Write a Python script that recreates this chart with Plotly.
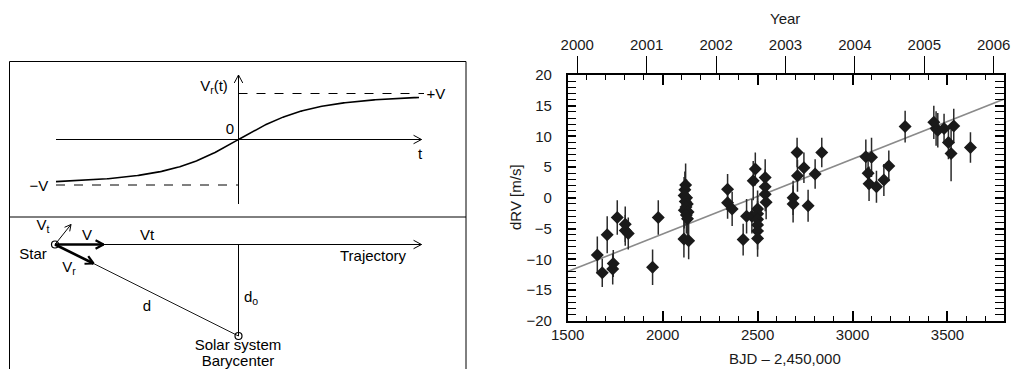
import numpy as np
import plotly.graph_objects as go

W, H = 1011, 369
FONT = "Liberation Sans, Arial, sans-serif"

# ---------------- data (right panel) ----------------
bjd = [1656, 1682, 1708, 1737, 1740, 1761, 1803, 1803, 1819, 1947, 1977,
       2121, 2117, 2113, 2126, 2119, 2130, 2123, 2114, 2134, 2125, 2131, 2112, 2137,
       2342, 2342, 2366, 2424, 2442, 2470, 2477, 2488,
       2500, 2500, 2500, 2500, 2500, 2500,
       2540, 2540, 2540, 2545,
       2687, 2687, 2708, 2710, 2744, 2766, 2803, 2838,
       3070, 3100, 3082, 3087, 3126, 3165, 3191, 3277,
       3428, 3440, 3449, 3482, 3505, 3519, 3533, 3621]
drv = [-9.3, -12.2, -6.0, -11.6, -10.7, -3.2, -4.3, -5.3, -5.8, -11.3, -3.2,
       2.1, 1.3, 0.4, 0.0, -0.6, -1.0, -1.5, -2.0, -2.3, -2.8, -3.4, -6.7, -7.0,
       1.4, -0.8, -1.8, -6.8, -3.0, -3.0, 2.8, 4.7,
       -1.8, -2.6, -3.5, -4.4, -5.4, -6.6,
       3.3, 1.8, 0.6, -0.7,
       0.0, -1.0, 7.4, 3.6, 4.9, -1.3, 3.9, 7.4,
       6.7, 6.6, 4.0, 2.3, 1.8, 2.9, 5.2, 11.6,
       12.3, 11.3, 11.0, 11.3, 9.0, 7.2, 11.7, 8.2]
err = [3.0, 2.3, 3.0, 2.5, 2.2, 2.8, 2.9, 2.5, 2.6, 2.9, 2.8,
       3.5, 3.0, 3.0, 3.0, 3.0, 3.0, 3.0, 3.0, 3.0, 3.0, 3.0, 3.0, 3.0,
       2.5, 2.6, 2.8, 2.6, 2.8, 2.8, 3.2, 2.7,
       3.0, 3.0, 3.0, 3.0, 3.0, 3.0,
       3.0, 2.8, 2.8, 2.8,
       2.8, 3.0, 2.4, 2.6, 2.5, 2.6, 2.4, 2.4,
       2.8, 3.2, 2.6, 2.8, 2.6, 2.6, 2.5, 2.6,
       2.7, 2.8, 2.8, 2.4, 2.7, 4.5, 2.8, 2.5]
fit_x = [1500, 3800]
fit_y = [-12.0, 16.1]

x_range = [1500, 3795]
y_range = [-20, 20]
year_range = [1999.862, 2006.141]
year_ticks = [2000, 2001, 2002, 2003, 2004, 2005, 2006]

# ---------------- layout helpers ----------------
def px(x):
    return x / W

def py(y):
    return 1 - y / H

fig = go.Figure()

# ---------------- left panel: schematic (pixel coordinates) ----------------
def seg(xs, ys, width=1.0, dash=None):
    fig.add_trace(go.Scatter(x=xs, y=ys, mode="lines", xaxis="x3", yaxis="y3",
                             line=dict(color="black", width=width, dash=dash),
                             hoverinfo="skip", showlegend=False))

def arrow_head(x0, y0, x1, y1, L=9, ang=28, width=1.0):
    d = np.array([x1 - x0, y1 - y0], float)
    d /= np.hypot(*d)
    out = []
    for s in (1, -1):
        a = np.deg2rad(s * ang)
        r = np.array([d[0] * np.cos(a) - d[1] * np.sin(a),
                      d[0] * np.sin(a) + d[1] * np.cos(a)])
        out.append((x1 - L * r[0], y1 - L * r[1]))
    seg([out[0][0], x1, out[1][0]], [out[0][1], y1, out[1][1]], width=width)

# frame
seg([9.5, 9.5], [369, 61.5])
seg([9.5, 466], [61.5, 61.5])
seg([466, 466], [61.5, 369])
seg([9.5, 466], [217, 217])

# upper sub-panel
ox, oy = 238.5, 139.5
seg([56, 421.5], [oy, oy])
arrow_head(56, oy, 421.5, oy)
seg([ox, ox], [204, 75])
arrow_head(ox, 204, ox, 75)
seg([ox, 424], [93.5, 93.5], dash="dash")
seg([56, ox], [185, 185], dash="dash")
# schematic radial-velocity curve  Vr = V t / sqrt(t^2 + tau^2)
tt = np.linspace(56, 419, 300)
uu = (tt - ox) / 80.0
seg(tt, oy - 46 * uu / np.sqrt(uu ** 2 + 1), width=1.6)

# lower sub-panel
sx, sy = 55, 244.5
bx, by = 238.5, 336
seg([sx, 421.5], [sy, sy])
arrow_head(sx, sy, 421.5, sy)
seg([sx, 103.5], [sy, sy], width=2.6)
arrow_head(sx, sy, 103.5, sy, width=2.2)
seg([sx, 71], [sy, 224.5])
arrow_head(sx, sy, 71, 224.5, L=7)
seg([sx, 93.5], [sy, 263.5], width=2.6)
arrow_head(sx, sy, 93.5, 263.5, width=2.2)
seg([93.5, bx], [263.5, by], width=0.9)
seg([bx, bx], [sy, by])
fig.add_trace(go.Scatter(x=[sx, bx], y=[sy, by], mode="markers", xaxis="x3", yaxis="y3",
                         marker=dict(symbol="circle-open", size=7, color="black",
                                     line=dict(width=1.2)),
                         hoverinfo="skip", showlegend=False))

labels = [(214, 87, "V<sub>r</sub>(t)"), (230, 130, "0"), (420, 155, "t"),
          (436, 95, "+V"), (39, 187, "\u2212V"), (43, 226, "V<sub>t</sub>"),
          (33, 255, "Star"), (87, 236, "V"), (147, 236, "Vt"),
          (69, 268, "V<sub>r</sub>"), (373, 257, "Trajectory"), (147, 307, "d"),
          (251, 298, "d<sub>o</sub>"), (238, 346, "Solar system"),
          (238, 362, "Barycenter")]
fig.add_trace(go.Scatter(x=[l[0] for l in labels], y=[l[1] for l in labels],
                         text=[l[2] for l in labels], mode="text",
                         textposition="middle center", xaxis="x3", yaxis="y3",
                         textfont=dict(family=FONT, size=15, color="black"),
                         cliponaxis=False, hoverinfo="skip", showlegend=False))

# ---------------- right panel: RV data ----------------
fig.add_trace(go.Scatter(x=fit_x, y=fit_y, mode="lines", xaxis="x", yaxis="y",
                         line=dict(color="#8a8a8a", width=1.6),
                         hoverinfo="skip", showlegend=False))
fig.add_trace(go.Scatter(x=bjd, y=drv, mode="markers", xaxis="x", yaxis="y",
                         marker=dict(symbol="diamond", size=10, color="#1a1a1a"),
                         error_y=dict(type="data", array=err, visible=True,
                                      thickness=1.5, width=0, color="#2a2a2a"),
                         showlegend=False))
# invisible trace to materialize the top (year) axis
fig.add_trace(go.Scatter(x=year_ticks, y=[None] * len(year_ticks), mode="markers",
                         xaxis="x2", yaxis="y", hoverinfo="skip", showlegend=False))

x0p, x1p = px(567.7), px(1003.5)
y0p, y1p = py(320.7), py(75)

tickfont = dict(family=FONT, size=15, color="#1a1a1a")
fig.update_layout(
    template="none",
    width=W, height=H, margin=dict(l=0, r=0, t=0, b=0, pad=0, autoexpand=False),
    paper_bgcolor="white", plot_bgcolor="white", showlegend=False,
    xaxis=dict(domain=[x0p, x1p], range=x_range, anchor="y", automargin=False,
               showgrid=False, zeroline=False, showline=True, linecolor="black",
               linewidth=1.5, mirror="allticks", ticks="inside", ticklen=10,
               tickwidth=1.5, tickcolor="black", dtick=500, tick0=1500,
               tickfont=tickfont,
               minor=dict(dtick=100, ticks="inside", ticklen=5, tickwidth=1,
                          tickcolor="black", showgrid=False)),
    xaxis2=dict(overlaying="x", side="top", anchor="y", range=year_range,
                automargin=False,
                showgrid=False, zeroline=False, showline=False,
                ticks="outside", ticklen=18, tickwidth=1.2, tickcolor="black",
                tickvals=year_ticks, ticktext=[str(v) for v in year_ticks],
                tickfont=tickfont),
    yaxis=dict(domain=[y0p, y1p], range=y_range, anchor="x", automargin=False,
               showgrid=False, zeroline=False, showline=True, linecolor="black",
               linewidth=1.5, mirror="allticks", ticks="inside", ticklen=9,
               tickwidth=1.5, tickcolor="black", dtick=5, tick0=0,
               tickfont=tickfont, ticklabelstandoff=11,
               minor=dict(dtick=1, ticks="inside", ticklen=5, tickwidth=1,
                          tickcolor="black", showgrid=False)),
    xaxis3=dict(domain=[0, px(475)], range=[0, 475], visible=False, anchor="y3",
                automargin=False),
    yaxis3=dict(domain=[0, 1], range=[H, 0], visible=False, anchor="x3",
                automargin=False),
)

for s, x, y, ang in [("Year", 785, 18, 0), ("BJD \u2013 2,450,000", 785, 358, 0),
                     ("dRV [m/s]", 515, 197, -90)]:
    fig.add_annotation(x=px(x), y=py(y), xref="paper", yref="paper", text=s,
                       showarrow=False, textangle=ang, xanchor="center", yanchor="middle",
                       font=dict(family=FONT, size=15, color="#1a1a1a"))

fig.write_html("out.html")
